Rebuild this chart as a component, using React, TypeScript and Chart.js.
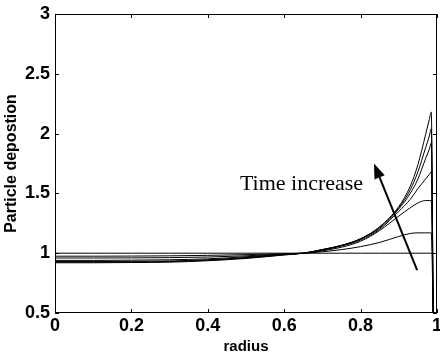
import React, { useEffect, useRef } from "react";
import { Chart, registerables } from "chart.js";

Chart.register(...registerables);

const radius = [0, 0.1, 0.2, 0.3, 0.4, 0.5, 0.6, 0.65, 0.7, 0.75, 0.8, 0.85, 0.9, 0.93, 0.95, 0.97, 0.98, 0.985, 0.99];
const curve1 = [0.92, 0.92, 0.922, 0.925, 0.937, 0.956, 0.985, 1.0, 1.03, 1.065, 1.12, 1.22, 1.39, 1.56, 1.74, 1.99, 2.12, 2.18, 0.5];
const curve2 = [0.925, 0.925, 0.927, 0.93, 0.941, 0.96, 0.987, 1.0, 1.03, 1.065, 1.12, 1.22, 1.38, 1.53, 1.68, 1.88, 1.98, 2.04, 0.5];
const curve3 = [0.93, 0.93, 0.932, 0.935, 0.945, 0.964, 0.99, 1.0, 1.03, 1.065, 1.12, 1.21, 1.37, 1.5, 1.62, 1.79, 1.87, 1.92, 0.5];
const curve4 = [0.94, 0.94, 0.942, 0.945, 0.953, 0.97, 0.992, 1.0, 1.025, 1.06, 1.11, 1.2, 1.35, 1.45, 1.54, 1.62, 1.66, 1.68, 0.5];
const curve5 = [0.96, 0.96, 0.961, 0.963, 0.968, 0.978, 0.993, 1.0, 1.02, 1.05, 1.1, 1.19, 1.31, 1.38, 1.42, 1.44, 1.44, 1.44, 0.5];
const curve6 = [0.975, 0.975, 0.976, 0.978, 0.982, 0.988, 0.996, 1.0, 1.012, 1.03, 1.055, 1.09, 1.14, 1.165, 1.17, 1.17, 1.17, 1.17, 0.5];
const flat = [1, 1, 1, 1, 1, 1, 1, 1, 1, 1, 1, 1, 1, 1, 1, 1, 1, 1, 1];
const seriesList = [curve1, curve2, curve3, curve4, curve5, curve6, flat];

const xTicks = [0, 0.2, 0.4, 0.6, 0.8, 1];
const yTicks = [0.5, 1, 1.5, 2, 2.5, 3];

const annotationText = "Time increase";
const textAnchor = { x: 0.484, y: 1.527 };
const arrowTail = { x: 0.948, y: 0.858 };
const arrowTip = { x: 0.835, y: 1.75 };

const framePlugin = {
  id: "frame",
  afterDraw(chart: any) {
    const { ctx, chartArea: a, scales } = chart;
    const xs = scales.x;
    const ys = scales.y;
    ctx.save();
    ctx.strokeStyle = "#000";
    ctx.lineWidth = 1;
    ctx.strokeRect(a.left + 0.5, a.top + 0.5, a.right - a.left - 1, a.bottom - a.top - 1);
    ctx.beginPath();
    const tl = 4;
    xTicks.forEach((v) => {
      const px = Math.round(xs.getPixelForValue(v)) + 0.5;
      ctx.moveTo(px, a.bottom);
      ctx.lineTo(px, a.bottom - tl);
      ctx.moveTo(px, a.top);
      ctx.lineTo(px, a.top + tl);
    });
    yTicks.forEach((v) => {
      const py = Math.round(ys.getPixelForValue(v)) + 0.5;
      ctx.moveTo(a.left, py);
      ctx.lineTo(a.left + tl, py);
      ctx.moveTo(a.right, py);
      ctx.lineTo(a.right - tl, py);
    });
    ctx.stroke();

    // annotation text
    ctx.fillStyle = "#000";
    ctx.font = "22px 'Liberation Serif', 'Times New Roman', serif";
    ctx.textAlign = "left";
    ctx.textBaseline = "alphabetic";
    ctx.fillText(annotationText, xs.getPixelForValue(textAnchor.x), ys.getPixelForValue(textAnchor.y));

    // arrow
    const tx = xs.getPixelForValue(arrowTail.x);
    const ty = ys.getPixelForValue(arrowTail.y);
    const hx = xs.getPixelForValue(arrowTip.x);
    const hy = ys.getPixelForValue(arrowTip.y);
    const ang = Math.atan2(hy - ty, hx - tx);
    const headLen = 15;
    const headHalf = 5.5;
    const bx = hx - headLen * Math.cos(ang);
    const by = hy - headLen * Math.sin(ang);
    ctx.lineWidth = 2;
    ctx.beginPath();
    ctx.moveTo(tx, ty);
    ctx.lineTo(bx, by);
    ctx.stroke();
    ctx.beginPath();
    ctx.moveTo(hx, hy);
    ctx.lineTo(bx + headHalf * Math.sin(ang), by - headHalf * Math.cos(ang));
    ctx.lineTo(bx - headHalf * Math.sin(ang), by + headHalf * Math.cos(ang));
    ctx.closePath();
    ctx.fill();
    ctx.restore();
  },
};

export default function App() {
  const ref = useRef<HTMLCanvasElement>(null);
  useEffect(() => {
    document.body.style.margin = "0";
    const canvas = ref.current!;
    const datasets = seriesList.map((s) => ({
      data: radius.map((r, i) => ({ x: r, y: s[i] })),
      borderColor: "#000",
      borderWidth: 1,
      pointRadius: 0,
      fill: false,
      cubicInterpolationMode: "monotone" as const,
    }));
    const fmt = (v: any) => String(Number(Number(v).toFixed(2)));
    const chart = new Chart(canvas, {
      type: "line",
      data: { datasets },
      plugins: [framePlugin],
      options: {
        animation: false,
        responsive: false,
        devicePixelRatio: 1,
        layout: { padding: { top: 14, right: 3, left: 0, bottom: 0 } },
        plugins: { legend: { display: false }, tooltip: { enabled: false } },
        scales: {
          x: {
            type: "linear",
            min: 0,
            max: 1,
            afterBuildTicks: (s: any) => {
              s.ticks = xTicks.map((v) => ({ value: v }));
            },
            ticks: {
              font: { family: "'Liberation Sans', Arial, sans-serif", size: 18, weight: "bold" },
              color: "#000",
              padding: 2,
              callback: fmt,
              maxRotation: 0,
              autoSkip: false,
            },
            grid: { display: false, drawTicks: false },
            border: { display: false },
            title: {
              display: true,
              text: "radius",
              color: "#000",
              font: { family: "'Liberation Sans', Arial, sans-serif", size: 15, weight: "bold" },
              padding: { top: 0, bottom: 3 },
            },
            afterFit: (s: any) => {
              s.height = 46;
              s.paddingLeft = 0;
              s.paddingRight = 0;
            },
          },
          y: {
            type: "linear",
            min: 0.5,
            max: 3,
            afterBuildTicks: (s: any) => {
              s.ticks = yTicks.map((v) => ({ value: v }));
            },
            ticks: {
              font: { family: "'Liberation Sans', Arial, sans-serif", size: 18, weight: "bold" },
              color: "#000",
              padding: 5,
              callback: fmt,
              autoSkip: false,
            },
            grid: { display: false, drawTicks: false },
            border: { display: false },
            title: {
              display: true,
              text: "Particle depostion",
              color: "#000",
              font: { family: "'Liberation Sans', Arial, sans-serif", size: 16, weight: "bold" },
              padding: { top: 2, bottom: 0 },
            },
            afterFit: (s: any) => {
              s.width = 55;
              s.paddingTop = 0;
              s.paddingBottom = 0;
            },
          },
        },
      },
    } as any);
    return () => chart.destroy();
  }, []);
  return (
    <div style={{ width: 440, height: 359 }}>
      <canvas ref={ref} width={440} height={359} style={{ display: "block" }} />
    </div>
  );
}
